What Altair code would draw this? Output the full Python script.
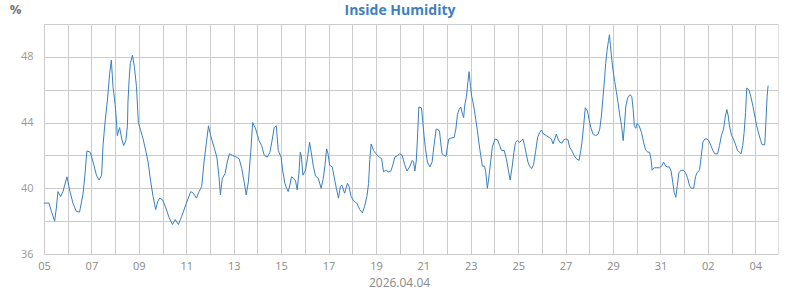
import altair as alt
import pandas as pd

# Day offsets from 2026-03-05 00:00 UTC and relative humidity (%)
DAYS = [
    0.00, 0.21, 0.31, 0.45, 0.52, 0.59, 0.70, 0.80, 0.97, 1.08, 1.22, 1.36, 1.50, 1.65, 1.74, 1.81,
    1.95, 2.07, 2.21, 2.32, 2.43, 2.49, 2.56, 2.67, 2.77, 2.84, 2.91, 3.00, 3.05, 3.09, 3.19, 3.28,
    3.36, 3.45, 3.52, 3.54, 3.59, 3.64, 3.73, 3.81, 3.90, 3.98, 4.08, 4.18, 4.29, 4.39, 4.49, 4.60,
    4.71, 4.80, 4.88, 5.00, 5.14, 5.28, 5.42, 5.53, 5.67, 5.81, 5.98, 6.19, 6.30, 6.43, 6.54, 6.65,
    6.75, 6.85, 6.94, 7.03, 7.17, 7.29, 7.38, 7.44, 7.52, 7.64, 7.73, 7.82, 7.95, 8.11, 8.23, 8.34,
    8.44, 8.53, 8.62, 8.72, 8.80, 8.93, 9.07, 9.18, 9.29, 9.42, 9.53, 9.63, 9.71, 9.80, 9.88, 10.00,
    10.07, 10.16, 10.23, 10.30, 10.37, 10.44, 10.54, 10.61, 10.68, 10.75, 10.81, 10.86, 10.92, 11.03,
    11.12, 11.20, 11.27, 11.36, 11.45, 11.57, 11.69, 11.78, 11.85, 11.92, 11.98, 12.05, 12.16, 12.23,
    12.33, 12.42, 12.50, 12.56, 12.63, 12.68, 12.80, 12.87, 12.95, 13.08, 13.19, 13.32, 13.43, 13.52,
    13.62, 13.69, 13.74, 13.80, 13.90, 14.00, 14.14, 14.24, 14.32, 14.42, 14.53, 14.63, 14.70, 14.80,
    14.92, 15.00, 15.11, 15.21, 15.31, 15.42, 15.53, 15.59, 15.64, 15.70, 15.75, 15.81, 15.92, 15.98,
    16.03, 16.09, 16.17, 16.28, 16.37, 16.45, 16.54, 16.58, 16.68, 16.73, 16.79, 16.87, 16.96, 17.00,
    17.07, 17.16, 17.30, 17.37, 17.44, 17.51, 17.58, 17.65, 17.70, 17.74, 17.82, 17.88, 17.93, 17.99,
    18.04, 18.10, 18.16, 18.21, 18.28, 18.35, 18.42, 18.49, 18.58, 18.63, 18.70, 18.77, 18.84, 18.91,
    19.02, 19.13, 19.22, 19.30, 19.41, 19.50, 19.58, 19.66, 19.75, 19.82, 19.89, 19.96, 20.06, 20.14,
    20.20, 20.27, 20.34, 20.41, 20.48, 20.57, 20.65, 20.74, 20.82, 20.91, 20.98, 21.07, 21.19, 21.30,
    21.40, 21.47, 21.54, 21.61, 21.68, 21.75, 21.85, 21.92, 22.00, 22.10, 22.17, 22.26, 22.36, 22.45,
    22.57, 22.64, 22.69, 22.76, 22.83, 22.92, 22.99, 23.06, 23.16, 23.27, 23.37, 23.44, 23.51, 23.58,
    23.64, 23.69, 23.75, 23.81, 23.85, 23.89, 23.95, 24.00, 24.07, 24.14, 24.21, 24.29, 24.36, 24.43,
    24.48, 24.54, 24.62, 24.71, 24.79, 24.85, 24.90, 24.96, 25.02, 25.10, 25.20, 25.29, 25.37, 25.46,
    25.54, 25.60, 25.65, 25.74, 25.85, 25.96, 26.05, 26.13, 26.22, 26.30, 26.38, 26.45, 26.52, 26.58,
    26.65, 26.71, 26.78, 26.86, 26.97, 27.06, 27.14, 27.23, 27.30, 27.40, 27.48, 27.54, 27.65, 27.72,
    27.79, 27.87, 27.96, 28.04, 28.13, 28.21, 28.29, 28.41, 28.49, 28.57, 28.66, 28.74, 28.80, 28.86,
    28.91, 29.00, 29.08, 29.16, 29.25, 29.33, 29.40, 29.47, 29.53, 29.59, 29.64, 29.73, 29.81, 29.90,
    29.98, 30.06, 30.15, 30.23, 30.29, 30.40, 30.46, 30.50, 30.54,
]
HUMIDITY = [
    39.1, 39.1, 38.6, 38.0, 38.8, 39.8, 39.5, 39.8, 40.7, 39.9, 39.1, 38.6, 38.55, 39.7, 41.05, 42.27,
    42.2, 41.6, 40.8, 40.5, 40.8, 42.6, 43.8, 45.3, 47.0, 47.8, 46.2, 45.1, 44.2, 43.2, 43.7, 43.0,
    42.6, 42.9, 43.8, 45.2, 46.6, 47.6, 48.1, 47.4, 46.2, 44.0, 43.5, 43.0, 42.3, 41.6, 40.5, 39.5,
    38.7, 39.2, 39.4, 39.3, 38.8, 38.2, 37.8, 38.1, 37.8, 38.3, 39.0, 39.8, 39.7, 39.4, 39.8, 40.1,
    41.6, 42.8, 43.8, 43.2, 42.5, 41.9, 40.7, 39.6, 40.6, 40.9, 41.6, 42.1, 42.0, 41.9, 41.8, 41.2,
    40.4, 39.6, 40.4, 42.2, 44.0, 43.6, 42.9, 42.6, 42.0, 41.9, 42.2, 43.0, 43.7, 43.8, 42.3, 41.9,
    41.05, 40.3, 40.0, 39.8, 40.2, 40.7, 40.6, 40.45, 39.9, 40.9, 42.2, 41.9, 40.8, 41.1,
    41.9, 42.8, 42.2, 41.35, 40.75, 40.6, 40.0, 40.6, 41.4, 42.4, 42.1, 41.4, 41.3, 40.75,
    40.0, 39.4, 40.1, 40.2, 39.9, 39.7, 40.3, 40.1, 39.5, 39.2, 39.1, 38.7, 38.5, 38.9,
    39.5, 40.3, 41.75, 42.7, 42.3, 42.1, 41.9, 41.8, 41.0, 41.1, 41.0, 41.05, 41.35, 41.9,
    42.0, 42.1, 42.0, 41.45, 41.05, 41.3, 41.7, 41.6, 41.05, 41.65, 43.0, 44.95, 44.9, 44.0,
    43.2, 42.4, 41.6, 41.3, 41.6, 42.6, 43.6, 43.6, 43.5, 42.8, 42.1, 42.0, 41.95, 42.4,
    43.0, 43.05, 43.1, 43.6, 44.5, 44.8, 44.95, 44.5, 44.3, 45.0, 45.6, 46.5, 47.1, 46.2,
    45.6, 45.2, 44.7, 44.2, 43.5, 42.7, 42.0, 41.35, 41.35, 41.0, 40.0, 40.75, 41.65, 42.5,
    43.0, 42.95, 42.6, 42.3, 42.3, 41.8, 41.15, 40.5, 41.35, 42.2, 42.8, 42.9, 42.8, 42.9,
    43.0, 42.6, 42.1, 41.6, 41.35, 41.2, 41.45, 42.3, 43.1, 43.4, 43.55, 43.3, 43.2, 43.1,
    43.0, 42.7, 43.0, 43.3, 43.0, 42.8, 42.75, 42.95, 43.0, 42.95, 42.5, 42.3, 42.0, 41.8,
    41.7, 42.3, 42.8, 43.8, 44.9, 44.7, 44.2, 43.7, 43.3, 43.2, 43.3, 43.6, 44.4, 45.6,
    46.6, 47.6, 48.4, 49.0, 49.35, 48.7, 47.8, 47.2, 46.5, 45.9, 45.2, 44.4, 43.8, 42.9,
    43.8, 45.0, 45.5, 45.7, 45.6, 44.8, 43.8, 43.65, 43.95, 43.8, 43.4, 42.8, 42.35, 42.2,
    42.2, 41.8, 41.1, 41.25, 41.25, 41.25, 41.35, 41.6, 41.35, 41.3, 41.3, 41.05, 40.35, 39.75,
    39.45, 40.15, 40.95, 41.1, 41.1, 40.95, 40.65, 40.15, 40.0, 40.0, 40.7, 40.95, 41.1, 41.95,
    42.8, 43.0, 43.0, 42.9, 42.6, 42.3, 42.1, 42.1, 42.6, 43.2, 43.6, 44.4, 44.8, 44.4,
    43.8, 43.2, 43.0, 42.7, 42.3, 42.2, 42.1, 42.6, 43.4, 44.6, 46.1, 46.0, 45.6, 45.0,
    44.4, 43.8, 43.3, 42.9, 42.65, 42.65, 44.4, 45.6, 46.25,
]

START = pd.Timestamp("2026-03-05T00:00:00", tz="UTC")
END = pd.Timestamp("2026-04-04T23:00:00", tz="UTC")
DAY_MS = 86400000
start_ms = START.value // 10**6
end_ms = END.value // 10**6

times = START + pd.to_timedelta(DAYS, unit="D")
df = pd.DataFrame({
    "time": times.strftime("%Y-%m-%dT%H:%M:%SZ"),
    "humidity": HUMIDITY,
})

day_ticks = [start_ms + i * DAY_MS for i in range(31)]

FONT = "Open Sans"

x_axis = alt.Axis(
    values=day_ticks,
    labelExpr=f"round((datum.value - {start_ms}) / {DAY_MS}) % 2 == 0 ? utcFormat(datum.value, '%d') : ''",
    grid=True, gridColor="#cccccc", gridWidth=1,
    domain=False, ticks=False,
    labelColor="#888888", labelFontSize=11, labelFont=FONT, labelPadding=6,
    labelOverlap=False, labelFlush=False,
    title="2026.04.04", titleColor="#888888", titleFontSize=12, titleFont=FONT,
    titleFontWeight="normal", titleX=355, titleY=28, titleAlign="center", titleBaseline="middle",
)

y_axis = alt.Axis(
    values=[36, 38, 40, 42, 44, 46, 48, 50],
    labelExpr="datum.value % 4 == 0 ? datum.value : ''",
    grid=True, gridColor="#cccccc", gridWidth=1,
    domain=False, ticks=False,
    labelColor="#999999", labelFontSize=11, labelFont=FONT, labelPadding=11,
    title="%", titleAngle=0, titleX=-29, titleY=-15, titleAlign="center",
    titleBaseline="middle", titleColor="#777777", titleFontSize=13,
    titleFontWeight="bold", titleFont=FONT,
)

chart = alt.Chart(df).mark_line(color="#3a7fbf", strokeWidth=1, interpolate="linear").encode(
    x=alt.X("time:T", scale=alt.Scale(type="utc", domain=[start_ms, end_ms]), axis=x_axis),
    y=alt.Y("humidity:Q", scale=alt.Scale(domain=[36, 50], nice=False, zero=False), axis=y_axis),
).properties(
    width=734,
    height=230,
    autosize=alt.AutoSizeParams(type="none"),
    padding={"left": 44, "top": 24, "right": 22, "bottom": 36},
    title=alt.TitleParams(
        "Inside Humidity", fontSize=14, fontWeight="bold", color="#3f7fbf", font=FONT,
        anchor="middle", dx=-11, dy=22, offset=7,
    ),
).configure_view(
    stroke="#cccccc", strokeWidth=1
).configure(background="white")

chart.save("out.html", embed_options={"renderer": "svg", "actions": False})
